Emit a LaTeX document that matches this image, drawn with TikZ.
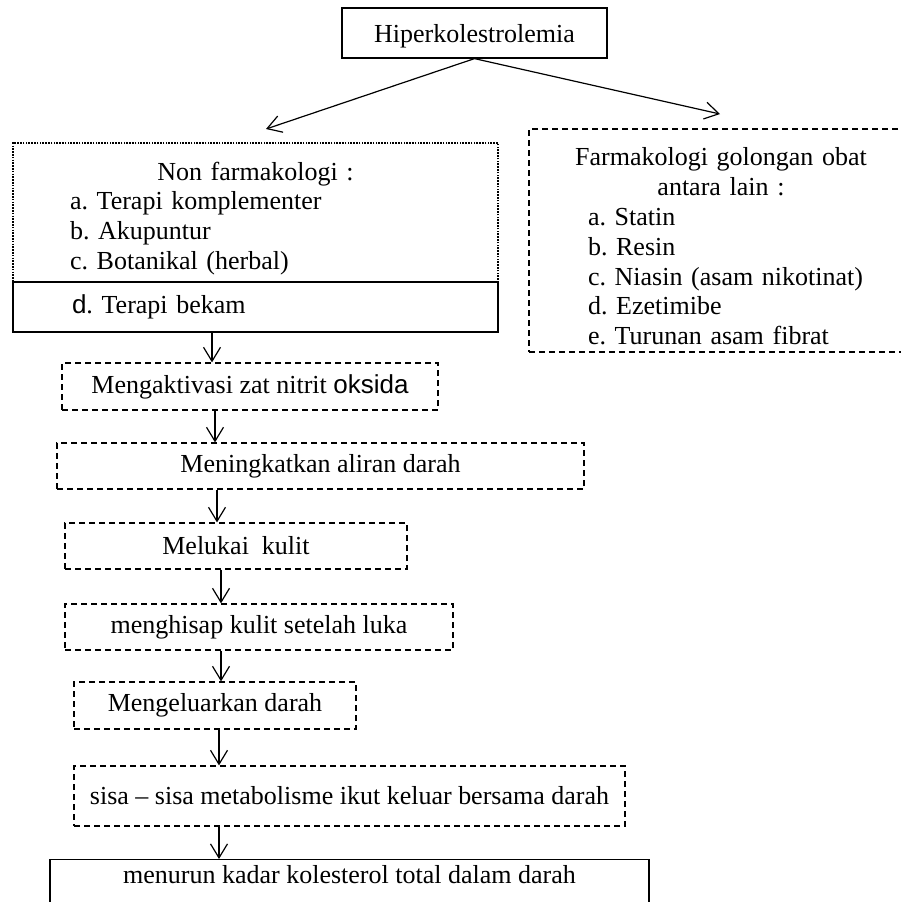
\documentclass[tikz,border=0pt]{standalone}
\usepackage{fontspec}
\setmainfont{Liberation Serif}
\newfontfamily\arialfont{Liberation Sans}
\usetikzlibrary{arrows.meta}
\frenchspacing

\begin{document}
\begin{tikzpicture}[x=0.5pt,y=-0.5pt,line width=0.6pt,
  font=\fontsize{13}{14.9}\selectfont,
  >={Straight Barb[length=7pt,width=8.5pt]},
  solidbox/.style={draw,inner sep=0pt},
  dashbox/.style={draw,dash pattern=on 3pt off 2pt,inner sep=0pt},
  dotbox/.style={draw,dash pattern=on 0.8pt off 0.6pt,inner sep=0pt}]
  \useasboundingbox (0,0) rectangle (901,902);
  % top
  \node[solidbox,minimum width=132.5pt,minimum height=25pt,text height=10pt,text depth=1pt] (hiper) at (474.5,33) {Hiperkolestrolemia};
  \coordinate (lend) at (266,129);
  \coordinate (rend) at (720,114);
  \draw[->] (hiper.south) -- (lend);
  \draw[->] (hiper.south) -- (rend);
  % non farmakologi
  \node[dotbox,minimum width=242.5pt,minimum height=69.5pt,text width=185.5pt,align=left] (nonfarm) at (255.5,212.5)
    {\makebox[\linewidth]{\rule{0pt}{15pt}Non farmakologi :}\\a. Terapi komplementer\\b. Akupuntur\\c. Botanikal (herbal)};
  \node[solidbox,minimum width=242.5pt,minimum height=25pt,text width=183.5pt,align=left] (bekam) at (255.5,307)
    {{\arialfont d}. Terapi bekam};
  % farmakologi (right side runs off the page)
  \node[dashbox,minimum width=199pt,minimum height=111.5pt,text width=140pt,align=left] (farm) at (728,240.5)
    {\makebox[\linewidth]{\rule{0pt}{15pt}Farmakologi golongan obat\hspace*{7pt}}\\\makebox[\linewidth]{antara lain :\hspace*{7pt}}\\a. Statin\\b. Resin\\c. Niasin (asam nikotinat)\\d. Ezetimibe\\e. Turunan asam fibrat};
  % steps
  \node[dashbox,minimum width=188pt,minimum height=23.5pt] (aktiv) at (250,386.5) {Mengaktivasi zat nitrit {\arialfont oksida}};
  \node[dashbox,minimum width=263.5pt,minimum height=23pt] (aliran) at (320.5,466) {Meningkatkan aliran darah};
  \node[dashbox,minimum width=171pt,minimum height=23pt] (luka) at (236,546) {Melukai\ \ kulit};
  \node[dashbox,minimum width=194pt,minimum height=23pt] (hisap) at (259,627) {menghisap kulit setelah luka};
  \node[dashbox,minimum width=141pt,minimum height=23.5pt] (keluar) at (215,705.5) {Mengeluarkan darah};
  \node[dashbox,minimum width=275.5pt,minimum height=30pt] (sisa) at (349.5,796) {sisa -- sisa metabolisme ikut keluar bersama darah};
  \node[solidbox,anchor=north,minimum width=299.5pt,text height=9pt,text depth=18pt,inner ysep=3pt] (turun) at (349.5,859)
    {menurun kadar kolesterol total dalam darah};
  \foreach \a/\b/\x in {bekam/aktiv/212,aktiv/aliran/215,aliran/luka/217,luka/hisap/221,hisap/keluar/221,keluar/sisa/219,sisa/turun/219}
    \draw[->] (\a.south -| \x,0) -- (\b.north -| \x,0);
\end{tikzpicture}
\end{document}
